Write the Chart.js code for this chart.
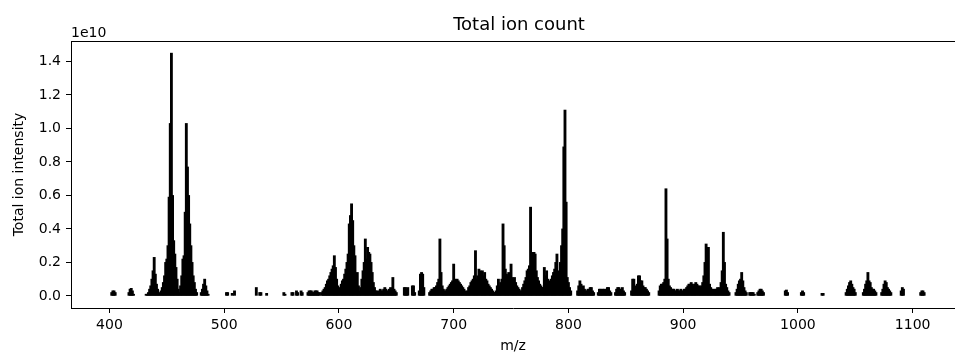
<!DOCTYPE html>
<html>
<head>
<meta charset="utf-8">
<title>Total ion count</title>
<script src="https://cdn.jsdelivr.net/npm/chart.js@4.4.0/dist/chart.umd.min.js"></script>
<style>
  html, body { margin: 0; padding: 0; background: #fff; }
</style>
</head>
<body>
<canvas id="ticChart" width="955" height="358"></canvas>
<script>
// first m/z of each group of peaks (one bar per m/z unit)
const segStart = [402, 417, 432, 444, 461, 480, 502, 507, 509, 528, 531, 537, 552, 559, 563, 567, 573, 585, 604, 619,
  633, 657, 664, 670, 679, 693, 711, 737, 759, 779, 808, 826, 841, 855, 879, 902, 918, 925, 946, 958,
  965, 989, 1003, 1021, 1042, 1057, 1073, 1090, 1107];

// intensities, in units of 1e10
const segValues = [
  [0.02, 0.03, 0.03, 0.02],
  [0.02, 0.04, 0.045, 0.03, 0.01],
  [0.01, 0.01, 0.02, 0.04, 0.06, 0.1, 0.15, 0.23, 0.13, 0.07, 0.04, 0.02],
  [0.01, 0.03, 0.05, 0.08, 0.12, 0.2, 0.22, 0.3, 0.59, 1.03, 1.45, 0.6, 0.33, 0.25, 0.17, 0.1, 0.04],
  [0.02, 0.06, 0.12, 0.22, 0.24, 0.5, 1.03, 0.77, 0.6, 0.43, 0.3, 0.2, 0.12, 0.08, 0.04, 0.02],
  [0.02, 0.04, 0.07, 0.1, 0.06, 0.03, 0.01],
  [0.02, 0.02],
  [0.015],
  [0.03],
  [0.05],
  [0.02, 0.02],
  [0.015],
  [0.02, 0.01],
  [0.02, 0.02],
  [0.03, 0.02],
  [0.03, 0.02],
  [0.02, 0.03, 0.03, 0.03, 0.02, 0.02, 0.03, 0.03, 0.03, 0.02, 0.02],
  [0.02, 0.03, 0.04, 0.05, 0.07, 0.09, 0.1, 0.12, 0.14, 0.16, 0.18, 0.24, 0.17, 0.1, 0.06, 0.04, 0.05, 0.07, 0.09],
  [0.1, 0.13, 0.16, 0.2, 0.25, 0.43, 0.48, 0.55, 0.45, 0.3, 0.24, 0.12, 0.14, 0.06, 0.03],
  [0.05, 0.1, 0.15, 0.2, 0.34, 0.22, 0.29, 0.26, 0.25, 0.2, 0.14, 0.08, 0.05, 0.03],
  [0.03, 0.02, 0.03, 0.04, 0.03, 0.03, 0.04, 0.05, 0.04, 0.03, 0.03, 0.04, 0.05, 0.03, 0.11, 0.04, 0.03, 0.02],
  [0.05, 0.05, 0.04, 0.05],
  [0.06, 0.06, 0.02],
  [0.03, 0.13, 0.14, 0.13, 0.05],
  [0.02, 0.03, 0.04, 0.04, 0.05, 0.05, 0.06, 0.08, 0.1, 0.34, 0.14, 0.06, 0.04, 0.03],
  [0.03, 0.04, 0.05, 0.06, 0.07, 0.08, 0.09, 0.19, 0.1, 0.09, 0.1, 0.09, 0.08, 0.07, 0.06, 0.05, 0.04, 0.03],
  [0.02, 0.03, 0.05, 0.06, 0.08, 0.09, 0.1, 0.12, 0.27, 0.1, 0.12, 0.16, 0.15, 0.11, 0.15, 0.12, 0.14, 0.1, 0.09, 0.07, 0.06, 0.05, 0.04, 0.03, 0.02, 0.02],
  [0.03, 0.06, 0.1, 0.06, 0.08, 0.1, 0.43, 0.3, 0.16, 0.13, 0.12, 0.14, 0.12, 0.19, 0.11, 0.1, 0.11, 0.08, 0.06, 0.05, 0.04, 0.03],
  [0.03, 0.05, 0.07, 0.09, 0.11, 0.15, 0.16, 0.18, 0.53, 0.26, 0.2, 0.26, 0.25, 0.15, 0.11, 0.09, 0.07, 0.06, 0.05, 0.05],
  [0.17, 0.12, 0.15, 0.1, 0.09, 0.08, 0.1, 0.12, 0.14, 0.16, 0.2, 0.25, 0.12, 0.15, 0.2, 0.3, 0.4, 0.89, 1.11, 0.56, 0.11, 0.08, 0.05, 0.03],
  [0.03, 0.06, 0.09, 0.07, 0.05, 0.06, 0.04, 0.03, 0.03, 0.04, 0.04, 0.05, 0.05, 0.03, 0.02],
  [0.02, 0.04, 0.04, 0.03, 0.04, 0.04, 0.03, 0.04, 0.05, 0.05, 0.03, 0.02],
  [0.02, 0.04, 0.05, 0.05, 0.04, 0.04, 0.05, 0.03, 0.02],
  [0.03, 0.1, 0.1, 0.06, 0.05, 0.07, 0.12, 0.12, 0.09, 0.09, 0.06, 0.05, 0.05, 0.04, 0.03, 0.02],
  [0.03, 0.06, 0.07, 0.07, 0.08, 0.1, 0.64, 0.34, 0.1, 0.06, 0.05, 0.04, 0.04, 0.04, 0.03, 0.03, 0.04, 0.03, 0.03, 0.04, 0.03, 0.03, 0.04],
  [0.04, 0.05, 0.06, 0.07, 0.07, 0.08, 0.07, 0.06, 0.07, 0.08, 0.07, 0.06, 0.06, 0.05, 0.06, 0.08],
  [0.12, 0.2, 0.31, 0.22, 0.29, 0.07, 0.05],
  [0.04, 0.04, 0.03, 0.04, 0.04, 0.05, 0.04, 0.05, 0.08, 0.15, 0.38, 0.2, 0.07, 0.05, 0.03, 0.02],
  [0.02, 0.04, 0.07, 0.09, 0.1, 0.14, 0.09, 0.05, 0.03, 0.02],
  [0.02, 0.02, 0.02, 0.02, 0.01],
  [0.02, 0.03, 0.04, 0.04, 0.03, 0.02],
  [0.03, 0.035, 0.02],
  [0.02, 0.03, 0.02],
  [0.015, 0.015],
  [0.02, 0.04, 0.06, 0.08, 0.09, 0.07, 0.05, 0.04, 0.02],
  [0.02, 0.04, 0.07, 0.09, 0.14, 0.09, 0.08, 0.05, 0.04, 0.04, 0.03, 0.02],
  [0.02, 0.04, 0.07, 0.09, 0.08, 0.05, 0.04, 0.03, 0.02],
  [0.03, 0.05, 0.04],
  [0.02, 0.03, 0.03, 0.02]
];

const xTicks = [400, 500, 600, 700, 800, 900, 1000, 1100];
const yTicks = [0, 0.2, 0.4, 0.6, 0.8, 1.0, 1.2, 1.4];
const xRange = [366.5, 1136.9];
const yRange = [-0.0725, 1.5225];

const points = [];
segStart.forEach((start, i) => {
  segValues[i].forEach((v, j) => points.push({ x: start + j, y: v }));
});

Chart.defaults.font.family = '"DejaVu Sans", sans-serif';
Chart.defaults.color = '#000';

// title + "1e10" factor + top spine, matplotlib style
const mplTextPlugin = {
  id: 'mplText',
  afterDraw(chart) {
    const { ctx, chartArea } = chart;
    ctx.save();
    ctx.fillStyle = '#000';
    ctx.textBaseline = 'alphabetic';
    ctx.font = '18px "DejaVu Sans"';
    ctx.textAlign = 'center';
    ctx.fillText('Total ion count', 519, 30);
    ctx.font = '14px "DejaVu Sans"';
    ctx.textAlign = 'left';
    ctx.fillText('1e10', chartArea.left, 37);
    ctx.strokeStyle = '#000';
    ctx.lineWidth = 1;
    ctx.beginPath();
    ctx.moveTo(chartArea.left, chartArea.top + 0.5);
    ctx.lineTo(chartArea.right, chartArea.top + 0.5);
    ctx.stroke();
    ctx.restore();
  }
};

new Chart(document.getElementById('ticChart'), {
  type: 'bar',
  data: {
    datasets: [{
      label: 'Total ion count',
      data: points,
      backgroundColor: '#000',
      borderWidth: 0,
      barThickness: 2.2
    }]
  },
  options: {
    responsive: false,
    animation: false,
    devicePixelRatio: 1,
    layout: { padding: { top: 41, right: 0, bottom: 0, left: 0 } },
    plugins: {
      legend: { display: false },
      tooltip: { enabled: false }
    },
    scales: {
      x: {
        type: 'linear',
        min: xRange[0],
        max: xRange[1],
        offset: false,
        afterBuildTicks: s => { s.ticks = xTicks.map(v => ({ value: v })); },
        afterFit: s => { s.height = 50; },
        grid: { display: true, offset: false, drawOnChartArea: false, drawTicks: true, tickLength: 5, color: '#000' },
        border: { display: true, color: '#000', width: 1 },
        ticks: { font: { size: 14 }, padding: 4, maxRotation: 0, autoSkip: false, callback: v => String(v) },
        title: { display: true, text: 'm/z', font: { size: 14 }, padding: { top: 0, bottom: 3 } }
      },
      y: {
        min: yRange[0],
        max: yRange[1],
        afterBuildTicks: s => { s.ticks = yTicks.map(v => ({ value: v })); },
        afterFit: s => { s.width = 71; },
        grid: { display: true, drawOnChartArea: false, drawTicks: true, tickLength: 5, color: '#000' },
        border: { display: true, color: '#000', width: 1 },
        ticks: { font: { size: 14 }, padding: 5, callback: v => Number(v).toFixed(1) },
        title: { display: true, text: 'Total ion intensity', font: { size: 14 }, padding: { top: 11, bottom: 0 } }
      }
    }
  },
  plugins: [mplTextPlugin]
});
</script>
</body>
</html>
